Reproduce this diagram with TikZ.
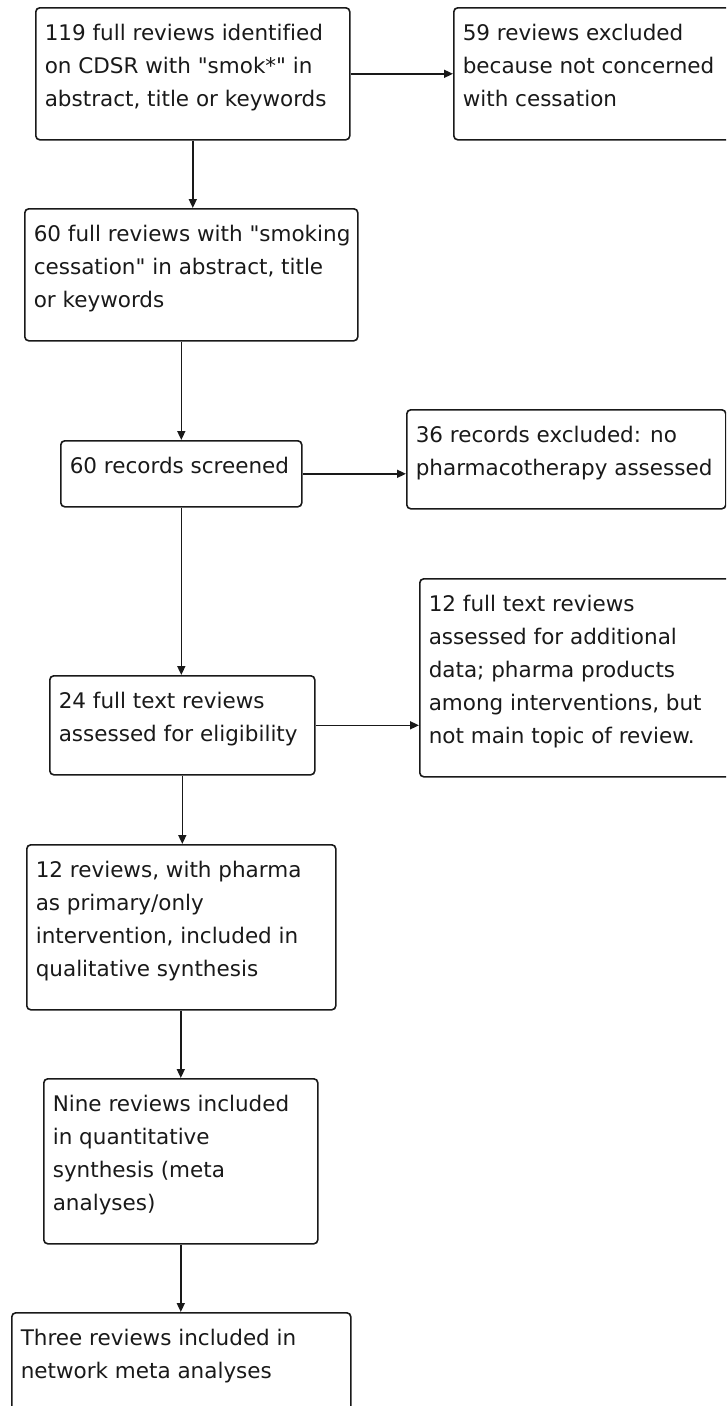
\documentclass[tikz,border=0pt]{standalone}
\usepackage{fontspec}
\usepackage{tikz}
\usetikzlibrary{arrows.meta}
\usetikzlibrary{positioning}
\newfontfamily\flowfont{DejaVu Sans}[Ligatures=NoCommon]
\definecolor{mgrey}{rgb}{0.1, 0.1, 0.1}
\newcommand{\boxlines}[2]{\makebox[#1][l]{\begin{tabular}[t]{@{}l@{}}#2\end{tabular}}}
\tikzset{stage/.style = {draw = mgrey, line width = 1.6pt, rounded corners = 4pt,
                         anchor = north west, inner xsep = 9pt, inner ysep = 0pt,
                         text = mgrey, text height = 33pt,
                         font = \flowfont\fontsize{21.5}{33}\selectfont},
         flow/.style = {draw = mgrey, line width = 1.6pt,
                        -{Triangle[length = 9pt, width = 8pt]}}}

\begin{document}
\begin{tikzpicture}[x = 1pt, y = -1pt]
    \useasboundingbox (0, 0) rectangle (726, 1406);
    \clip (0, 0) rectangle (726, 1406);

    \node [stage, text depth = 99pt] (ident) at (35, 7)
        {\boxlines{296pt}{119 full reviews identified\\ on CDSR with "smok*" in\\ abstract, title or keywords}};
    \node [stage, text depth = 99pt] (excl1) at (453, 7)
        {\boxlines{264pt}{59 reviews excluded\\ because not concerned\\ with cessation}};
    \node [stage, text depth = 99pt] (smoke) at (24, 208)
        {\boxlines{315pt}{60 full reviews with "smoking\\ cessation" in abstract, title\\ or keywords}};
    \node [stage, text depth = 33pt] (screen) at (60, 440)
        {\boxlines{223pt}{60 records screened}};
    \node [stage, text depth = 66pt] (excl2) at (406, 409)
        {\boxlines{301pt}{36 records excluded: no\\ pharmacotherapy assessed}};
    \node [stage, text depth = 66pt] (elig) at (49, 675)
        {\boxlines{247pt}{24 full text reviews\\ assessed for eligibility}};
    \node [stage, text depth = 165pt] (addl) at (419, 578)
        {\boxlines{298pt}{12 full text reviews\\ assessed for additional\\ data; pharma products\\ among interventions, but\\ not main topic of review.}};
    \node [stage, text depth = 132pt] (qual) at (26, 844)
        {\boxlines{291pt}{12 reviews, with pharma\\ as primary/only\\ intervention, included in\\ qualitative synthesis}};
    \node [stage, text depth = 132pt] (quant) at (43, 1078)
        {\boxlines{256pt}{Nine reviews included\\ in quantitative\\ synthesis (meta\\ analyses)}};
    \node [stage, text depth = 66pt] (network) at (11, 1312)
        {\boxlines{321pt}{Three reviews included in\\ network meta analyses}};

    \draw [flow] (ident.east) -- (ident.east -| excl1.west);
    \draw [flow] (ident.south) -- (ident.south |- smoke.north);
    \draw [flow] (smoke.south -| screen.north) -- (screen.north);
    \draw [flow] (screen.east) -- (screen.east -| excl2.west);
    \draw [flow] (screen.south) -- (screen.south |- elig.north);
    \draw [flow] (elig.east) -- (elig.east -| addl.west);
    \draw [flow] (elig.south) -- (elig.south |- qual.north);
    \draw [flow] (qual.south -| quant.north) -- (quant.north);
    \draw [flow] (quant.south) -- (quant.south |- network.north);
\end{tikzpicture}
\end{document}
